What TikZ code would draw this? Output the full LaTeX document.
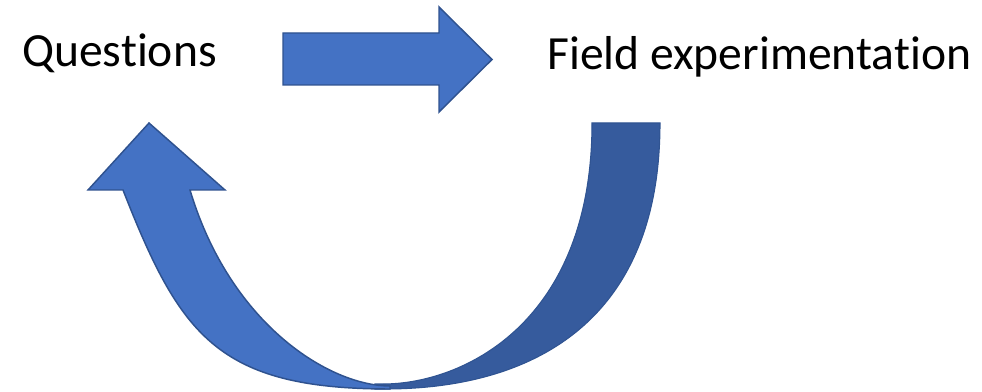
\documentclass[tikz,border=0pt]{standalone}
\usepackage{fontspec}
\setmainfont{Carlito}[RawFeature={-liga;-clig;-calt;-dlig}]
\definecolor{lightblue}{HTML}{4472C4}
\definecolor{darkblue}{HTML}{365B9D}
\definecolor{edgeblue}{HTML}{2F528F}
\begin{document}
\begin{tikzpicture}[x=0.75pt,y=-0.75pt,
  front/.style={fill=lightblue,draw=edgeblue,line width=1.1pt,line join=miter},
  back/.style={fill=darkblue,draw=edgeblue!80!darkblue,line width=0.8pt,line join=miter},
  label/.style={inner sep=0pt,anchor=base west,font=\fontsize{35.7}{42}\selectfont}]
\useasboundingbox (0,0) rectangle (982,392);
% labels
\node[label] (q) at (22,67) {Questions};
\node[label] (f) at (547,70) {Field experimentation};
% straight arrow
\draw[front] (283,33) -- (439,33) -- (439,7) -- (492,59.5) -- (439,112) -- (439,85) -- (283,85) -- cycle;
% back (dark) part of curved arrow
\draw[back] (592,123) -- (660,123)
  .. controls (660,328) and (525,389) .. (385,389) -- (375,389) -- (375,384) -- (383,384)
  .. controls (462,384) and (592,324) .. (592,123) -- cycle;
% front (light) part with arrowhead
\draw[front] (149,123) -- (225,190) -- (190,190)
  .. controls (230.5,325) and (330,386) .. (390,386) -- (390,389)
  .. controls (217,389) and (180,335) .. (123,190)
  -- (88,190) -- cycle;
\end{tikzpicture}
\end{document}
